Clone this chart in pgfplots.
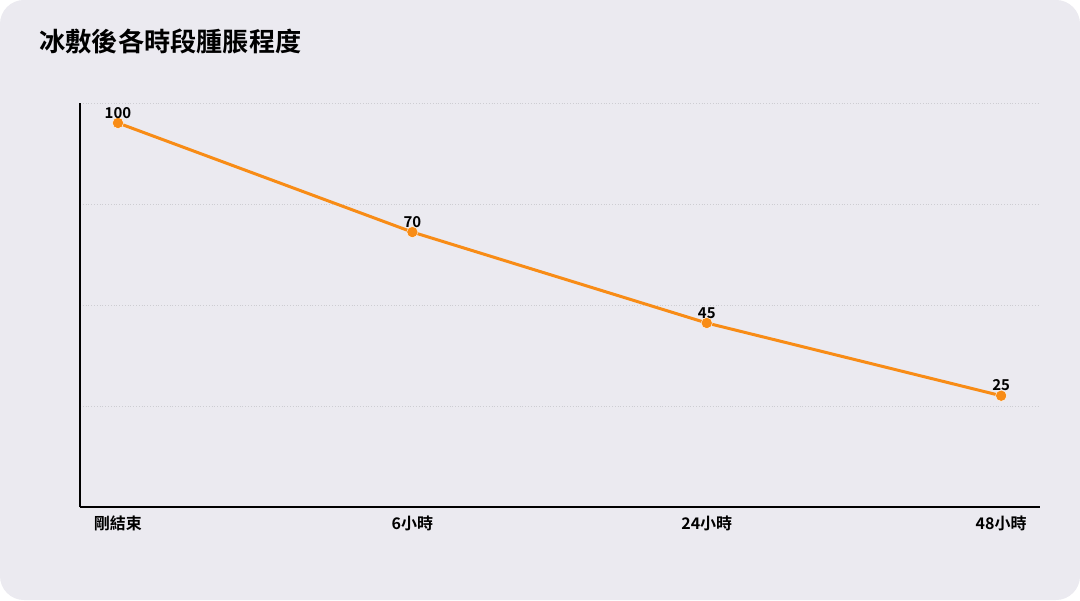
\documentclass[border=0pt]{standalone}
\usepackage{fontspec}
\setmainfont{Noto Sans CJK TC}[BoldFont={Noto Sans CJK TC Bold}]
\usepackage{pgfplots}
\pgfplotsset{compat=1.18}
\definecolor{bgcard}{RGB}{235,234,240}
\definecolor{lineorange}{RGB}{248,140,22}
\definecolor{gridgray}{RGB}{205,205,210}
\begin{document}
\begin{tikzpicture}
% 1px = 0.5pt; canvas 1080x600 px = 540x300 pt
\fill[white] (0pt,0pt) rectangle (540pt,300pt);
\fill[bgcard, rounded corners=12pt] (0pt,0pt) rectangle (540pt,300pt);
\node[anchor=west, inner sep=0pt, font=\fontsize{13.1}{15}\selectfont\bfseries] at (19.5pt,279pt) {冰敷後各時段腫脹程度};
\begin{axis}[
    at={(40pt,46.5pt)}, anchor=south west,
    scale only axis,
    width=480pt, height=202pt,
    xmin=-0.129, xmax=3.132,
    ymin=-5.6, ymax=105.5,
    axis x line=bottom, axis y line=left,
    axis line style={line width=1pt, -},
    xtick={0,1,2,3},
    xticklabels={剛結束,6小時,24小時,48小時},
    xticklabel style={font=\fontsize{8}{9}\selectfont\bfseries, inner sep=0pt, anchor=north, yshift=-4.3pt},
    major tick length=0pt,
    ytick={22.14,49.9,77.7,105.5},
    yticklabels={},
    ymajorgrids,
    major grid style={gridgray, densely dotted, line width=0.4pt},
    clip=false,
    nodes near coords,
    every node near coord/.append style={text=black, font=\fontsize{7.5}{9}\selectfont\bfseries, anchor=south, inner sep=0pt, yshift=2.2pt},
    /pgf/number format/assume math mode=true,
]
\addplot[lineorange, line width=1.5pt, mark=*, mark size=2.8pt,
  mark options={fill=lineorange, draw=white, line width=0.2pt}]
  coordinates {(0,100) (1,70) (2,45) (3,25)};
\end{axis}
\end{tikzpicture}
\end{document}
